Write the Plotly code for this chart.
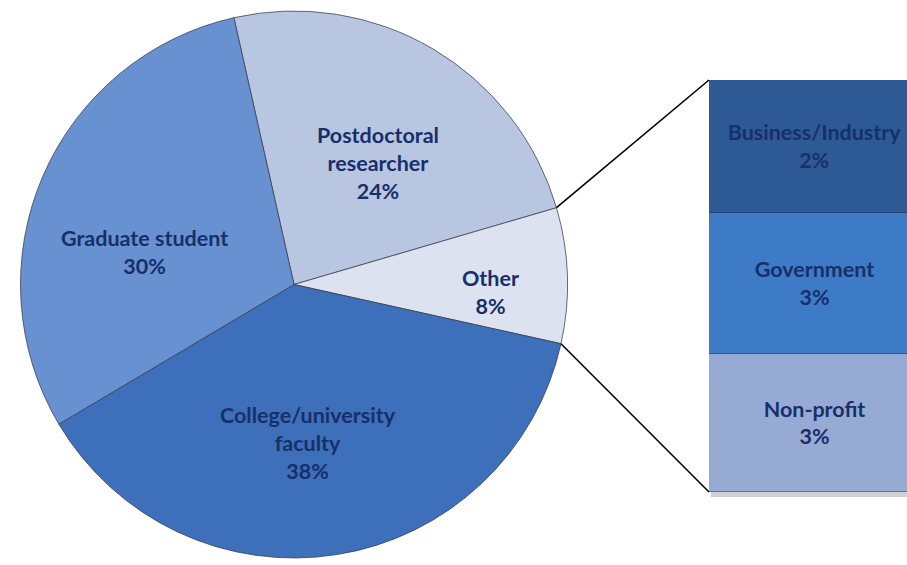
import math
import plotly.graph_objects as go

# Main breakdown of respondents' current position (percent)
roles = ["Postdoctoral<br>researcher", "Other", "College/university<br>faculty", "Graduate student"]
role_share = [24, 8, 38, 30]
role_colors = ["#B9C6E1", "#DCE2F0", "#3D6FBA", "#6891D2"]

# Breakdown of the "Other" slice (bottom to top in the stacked bar)
other_parts = ["Non-profit", "Government", "Business/Industry"]
other_share = [2.58, 2.62, 2.48]
other_colors = ["#97AAD4", "#3E7BC7", "#2D5A95"]

W, H = 907, 565
TEXT = "#172F6A"
FONT = "Lato"
FSIZE = 21.5

# pie placement (pixels)
pie_left, pie_right, pie_top, pie_bottom = 19, 569, 11, 558
pie_start = -12.7  # first slice begins just left of 12 o'clock, clockwise

# bar placement (pixels); the bar runs off the right edge
bar_left, bar_top, bar_bottom = 709, 80, 492

pie_dom_x = [pie_left / W, pie_right / W]
pie_dom_y = [1 - pie_bottom / H, 1 - pie_top / H]
bar_dom_x = [bar_left / W, 1.0]
bar_dom_y = [1 - bar_bottom / H, 1 - bar_top / H]

fig = go.Figure()

fig.add_trace(go.Pie(
    labels=roles,
    values=role_share,
    sort=False,
    direction="clockwise",
    rotation=pie_start,
    marker=dict(colors=role_colors, line=dict(color="rgba(55,60,75,0.75)", width=1)),
    textinfo="none",
    hoverinfo="label+percent",
    domain=dict(x=pie_dom_x, y=pie_dom_y),
    showlegend=False,
))

total_other = sum(other_share)
for name, val, col in zip(other_parts, other_share, other_colors):
    fig.add_trace(go.Bar(
        x=[0.535], y=[val], width=[1.07],
        marker=dict(color=col, line=dict(color="rgba(30,45,80,0.45)", width=1)),
        text=[f"<b>{name}<br>{val:.0f}%</b>"],
        textposition="inside", insidetextanchor="middle",
        textfont=dict(family=FONT, size=FSIZE, color=TEXT),
        constraintext="none",
        showlegend=False, hoverinfo="skip",
        xaxis="x", yaxis="y",
    ))

# pie geometry in pixels
cx = (pie_left + pie_right) / 2
cy = (pie_top + pie_bottom) / 2
r = min(pie_right - pie_left, pie_bottom - pie_top) / 2

def pie_point(angle_deg, frac):
    a = math.radians(angle_deg)
    return cx + frac * r * math.sin(a), cy - frac * r * math.cos(a)

# slice boundaries (degrees clockwise from 12 o'clock)
bounds = [pie_start]
for v in role_share:
    bounds.append(bounds[-1] + v / sum(role_share) * 360)

# label placement: radial fraction and angular nudge per slice
label_r = [0.54, 0.72, 0.58, 0.56]
label_nudge = [4, 4, 4, -11]
for i, (name, val) in enumerate(zip(roles, role_share)):
    mid = (bounds[i] + bounds[i + 1]) / 2 + label_nudge[i]
    px, py = pie_point(mid, label_r[i])
    fig.add_annotation(
        x=px / W, y=1 - py / H, xref="paper", yref="paper",
        xanchor="center", yanchor="middle",
        text=f"<b>{name}<br>{val}%</b>", showarrow=False,
        font=dict(family=FONT, size=FSIZE, color=TEXT), align="center",
    )

# connector lines from the "Other" slice edges to the bar corners
other_idx = 1
p_top = pie_point(bounds[other_idx], 1.0)
p_bot = pie_point(bounds[other_idx + 1], 1.0)
for (px, py), by in ((p_top, bar_dom_y[1]), (p_bot, bar_dom_y[0])):
    fig.add_shape(type="line", xref="paper", yref="paper",
                  x0=px / W, y0=1 - py / H, x1=bar_dom_x[0], y1=by,
                  line=dict(color="black", width=1.6))

# soft shadow beneath the bar
fig.add_shape(type="rect", xref="paper", yref="paper", layer="below",
              x0=bar_dom_x[0] + 2 / W, x1=1.0,
              y0=bar_dom_y[0] - 5 / H, y1=bar_dom_y[0],
              fillcolor="rgba(120,120,120,0.35)", line=dict(width=0))

fig.update_layout(
    width=W, height=H,
    margin=dict(l=0, r=0, t=0, b=0),
    paper_bgcolor="white", plot_bgcolor="white",
    barmode="stack", bargap=0,
    xaxis=dict(domain=bar_dom_x, range=[0, 1], visible=False, fixedrange=True),
    yaxis=dict(domain=bar_dom_y, range=[0, total_other], visible=False, fixedrange=True),
    font=dict(family=FONT),
)

fig.write_html("out.html")
